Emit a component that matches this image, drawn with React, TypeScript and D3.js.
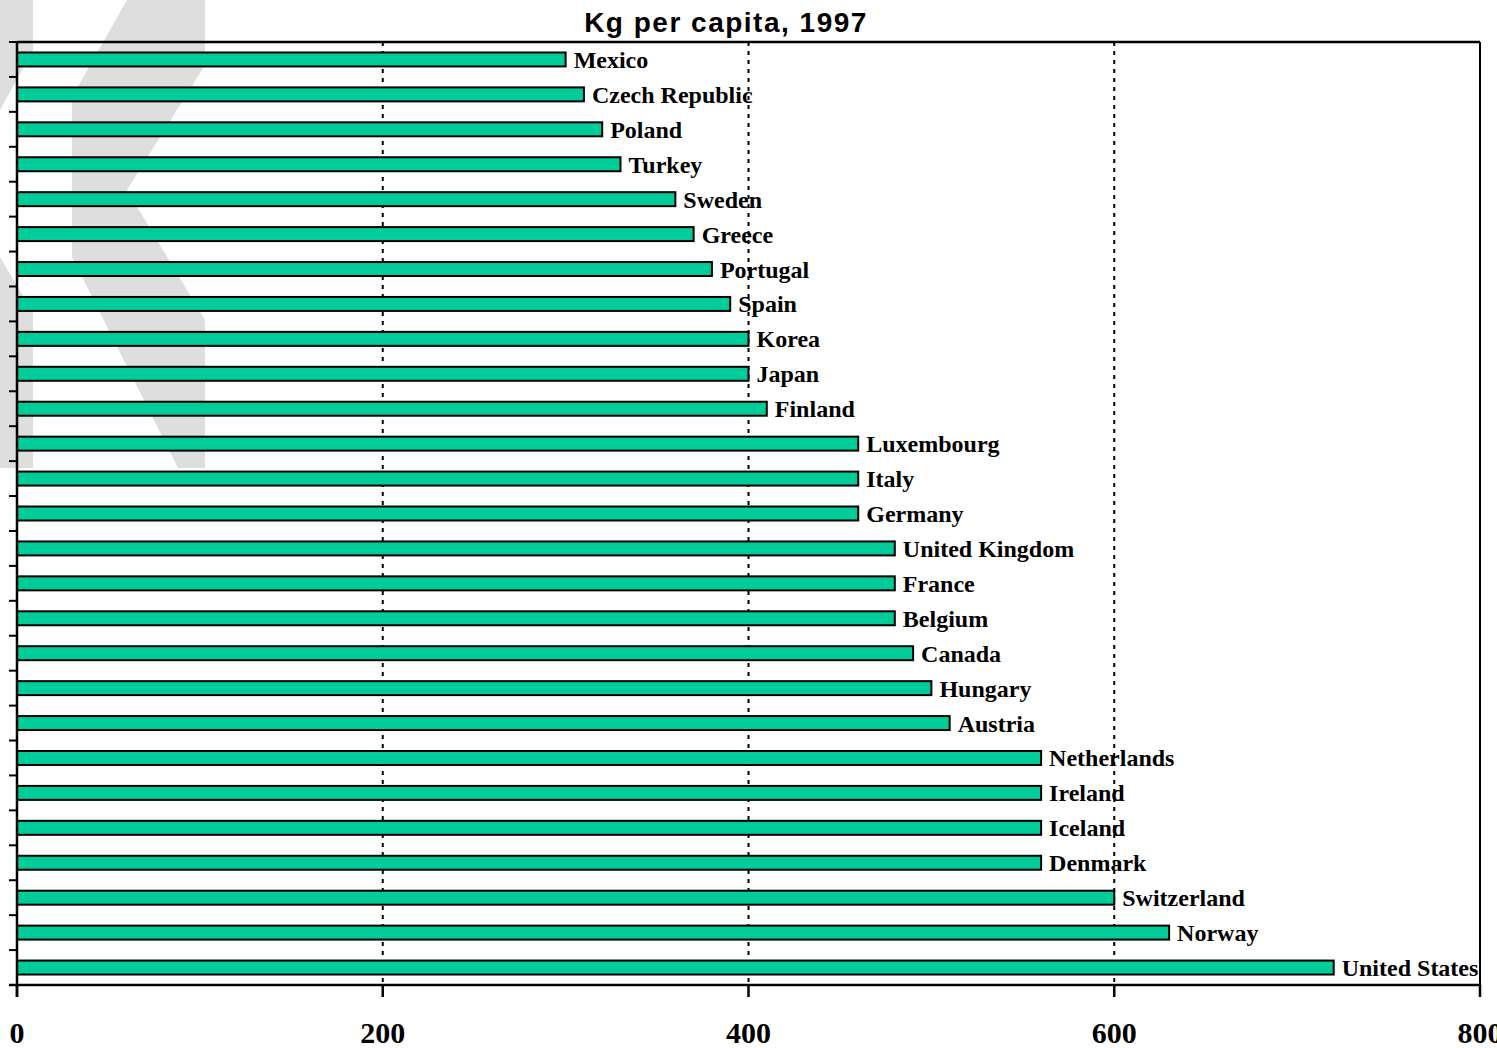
import React from 'react';
import * as d3 from 'd3';

const countries = ['Mexico','Czech Republic','Poland','Turkey','Sweden','Greece','Portugal','Spain','Korea','Japan','Finland','Luxembourg','Italy','Germany','United Kingdom','France','Belgium','Canada','Hungary','Austria','Netherlands','Ireland','Iceland','Denmark','Switzerland','Norway','United States'];
const kgPerCapita = [300,310,320,330,360,370,380,390,400,400,410,460,460,460,480,480,480,490,500,510,560,560,560,560,600,630,720];
const xTicks = [0,200,400,600,800];
const title = 'Kg per capita, 1997';

// watermark shapes (grey "K" letters behind the plot)
const watermark = [
  [[0,0],[33,0],[33,50],[0,110]],
  [[0,257],[33,313],[33,468],[0,468]],
  [[127,0],[205,0],[205,65],[127,190],[205,320],[205,468],[178,468],[72,257],[72,97]],
];

const W = 1497, H = 1048;
const margin = {left: 17, right: 17, top: 42, bottom: 63};

export default function App() {
  const x = d3.scaleLinear().domain([0, 800]).range([margin.left, W - margin.right]);
  const y = d3.scaleBand().domain(countries)
    .range([margin.top, H - margin.bottom])
    .paddingInner(0.6).paddingOuter(0.3);
  const step = y.step();
  const bottom = H - margin.bottom;
  const right = W - margin.right;
  const tickYs = d3.range(countries.length + 1).map(i => margin.top + i * step);

  let rows = countries.map((c, i) => {
    let yb = y(c) as number;
    return (
      <g key={c}>
        <rect x={x(0)} y={yb} width={x(kgPerCapita[i]) - x(0)} height={y.bandwidth()}
          fill='#00CC99' stroke='#000' strokeWidth={2} />
        <text x={x(kgPerCapita[i]) + 8} y={yb + y.bandwidth() / 2 + 8.5}
          fontFamily='"Liberation Serif", "Times New Roman", serif' fontWeight='bold' fontSize={24}>
          {c}
        </text>
      </g>
    );
  });

  return (
    <div>
      <style>{`body{margin:0}`}</style>
      <svg width={W} height={H} style={{display: 'block'}}>
        <rect width={W} height={H} fill='#fff' />
        {watermark.map((p, i) => (
          <path key={i} d={d3.line()(p as [number, number][]) + 'Z'} fill='#dedede' />
        ))}
        {xTicks.slice(1).map(t => (
          <line key={t} x1={x(t)} x2={x(t)} y1={margin.top} y2={bottom}
            stroke='#000' strokeWidth={2} strokeDasharray='4,5' />
        ))}
        {rows}
        <line x1={margin.left} x2={right} y1={margin.top} y2={margin.top} stroke='#000' strokeWidth={2.5} />
        <line x1={right} x2={right} y1={margin.top} y2={bottom} stroke='#000' strokeWidth={2} />
        <line x1={margin.left} x2={margin.left} y1={margin.top} y2={bottom + 12} stroke='#000' strokeWidth={2.5} />
        <line x1={margin.left - 8} x2={right} y1={bottom} y2={bottom} stroke='#000' strokeWidth={2.5} />
        {tickYs.map((ty, i) => (
          <line key={i} x1={margin.left - 8} x2={margin.left} y1={ty} y2={ty} stroke='#000' strokeWidth={2} />
        ))}
        {xTicks.map(t => (
          <g key={t}>
            <line x1={x(t)} x2={x(t)} y1={bottom} y2={bottom + 12} stroke='#000' strokeWidth={2.5} />
            <text x={x(t)} y={H - 5} textAnchor='middle'
              fontFamily='"Liberation Serif", "Times New Roman", serif' fontWeight='bold' fontSize={30}>
              {t}
            </text>
          </g>
        ))}
        <text x={726} y={32} textAnchor='middle'
          fontFamily='"Liberation Sans", Arial, sans-serif' fontWeight='bold' fontSize={28} letterSpacing={1.5}>
          {title}
        </text>
      </svg>
    </div>
  );
}
